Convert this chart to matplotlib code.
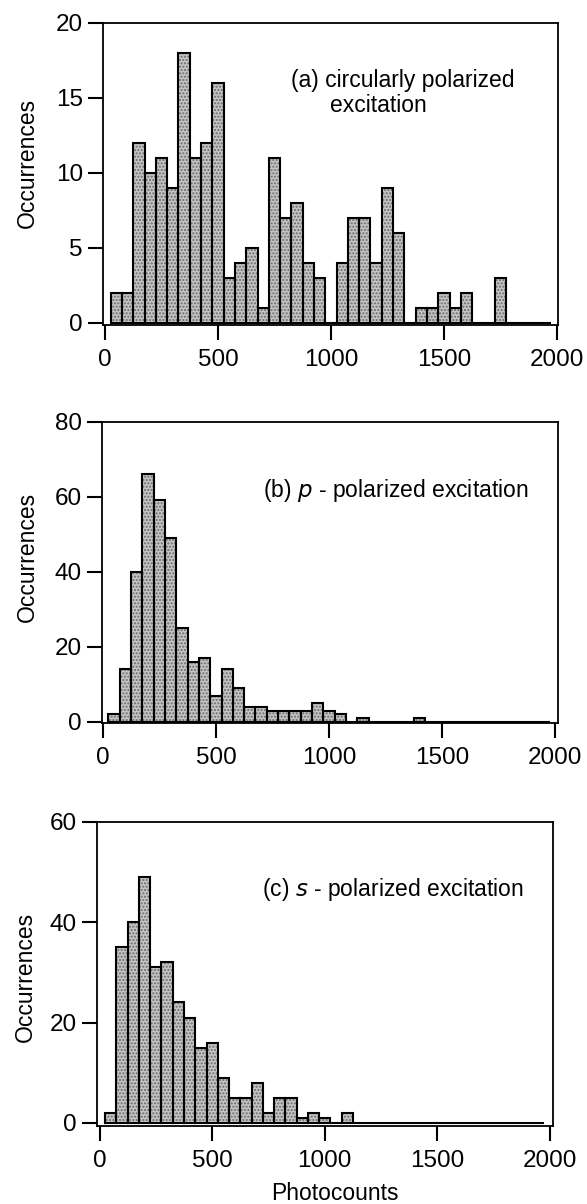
import matplotlib.pyplot as plt
import numpy as np

plt.rcParams['font.family'] = ['Liberation Sans', 'DejaVu Sans']

# bin centres, 50 photocounts wide (edges at 25, 75, ...)
centers = np.arange(50, 2000, 50)

counts_a = [2, 2, 12, 10, 11, 9, 18, 11, 12, 16, 3, 4, 5, 1, 11, 7, 8, 4, 3, 0,
            4, 7, 7, 4, 9, 6, 0, 1, 1, 2, 1, 2, 0, 0, 3, 0, 0, 0, 0]
counts_b = [2, 14, 40, 66, 59, 49, 25, 16, 17, 7, 14, 9, 4, 4, 3, 3, 3, 3, 5, 3,
            2, 0, 1, 0, 0, 0, 0, 1, 0, 0, 0, 0, 0, 0, 0, 0, 0, 0, 0]
counts_c = [2, 35, 40, 49, 31, 32, 24, 21, 15, 16, 9, 5, 5, 8, 2, 5, 5, 1, 2, 1,
            0, 2, 0, 0, 0, 0, 0, 0, 0, 0, 0, 0, 0, 0, 0, 0, 0, 0, 0]

# panel captions, one list of lines per panel
labels = [['(a) circularly polarized', 'excitation'],
          ['(b) $\\it{p}$ - polarized excitation'],
          ['(c) $\\it{s}$ - polarized excitation']]
yticks = [[0, 5, 10, 15, 20], [0, 20, 40, 60, 80], [0, 20, 40, 60]]
ylims = [(-0.15, 20), (-0.3, 80), (-0.6, 60)]
xlims = [(-9, 2005), (-3, 2012), (-12, 2013)]
# axes boxes in figure fractions [left, bottom, width, height]
boxes = [[0.1755, 0.730, 0.775, 0.251],
         [0.1738, 0.3995, 0.777, 0.2503],
         [0.165, 0.0648, 0.777, 0.2527]]
# (x, y) of each caption line, axes fraction, left aligned
text_pos = [[(0.413, 0.81), (0.499, 0.725)],
            [(0.352, 0.773)],
            [(0.363, 0.776)]]
ylabel_pos = [(-0.142, 0.536), (-0.139, 0.55), (-0.131, 0.49)]

fig = plt.figure(figsize=(5.87, 12.04), dpi=100)

for counts, label, yt, yl, xl, box, tp, lp in zip([counts_a, counts_b, counts_c], labels,
                                                  yticks, ylims, xlims, boxes, text_pos,
                                                  ylabel_pos):
    ax = fig.add_axes(box)
    # stippled fill, then black outline on top
    ax.bar(centers, counts, width=50, color='#c4c4c4', edgecolor='#6a6a6a',
           hatch='.....', linewidth=0, zorder=2)
    ax.bar(centers, counts, width=50, fill=False, edgecolor='black',
           linewidth=1.5, zorder=3)
    ax.set_xlim(*xl)
    ax.set_ylim(*yl)
    ax.set_xticks([0, 500, 1000, 1500, 2000])
    ax.set_yticks(yt)
    ax.tick_params(direction='out', length=11, width=1.5, labelsize=17.5)
    ax.tick_params(axis='x', pad=6)
    ax.tick_params(axis='y', pad=3.5)
    for s in ax.spines.values():
        s.set_linewidth(1.3)
    ax.set_ylabel('Occurrences', fontsize=16.5)
    ax.yaxis.set_label_coords(*lp)
    for line, (x, y) in zip(label, tp):
        ax.text(x, y, line, transform=ax.transAxes, fontsize=16.5,
                va='center', ha='left')

ax.set_xlabel('Photocounts', fontsize=16.5)
ax.xaxis.set_label_coords(0.522, -0.183)

fig.savefig('out.png', dpi=100)
